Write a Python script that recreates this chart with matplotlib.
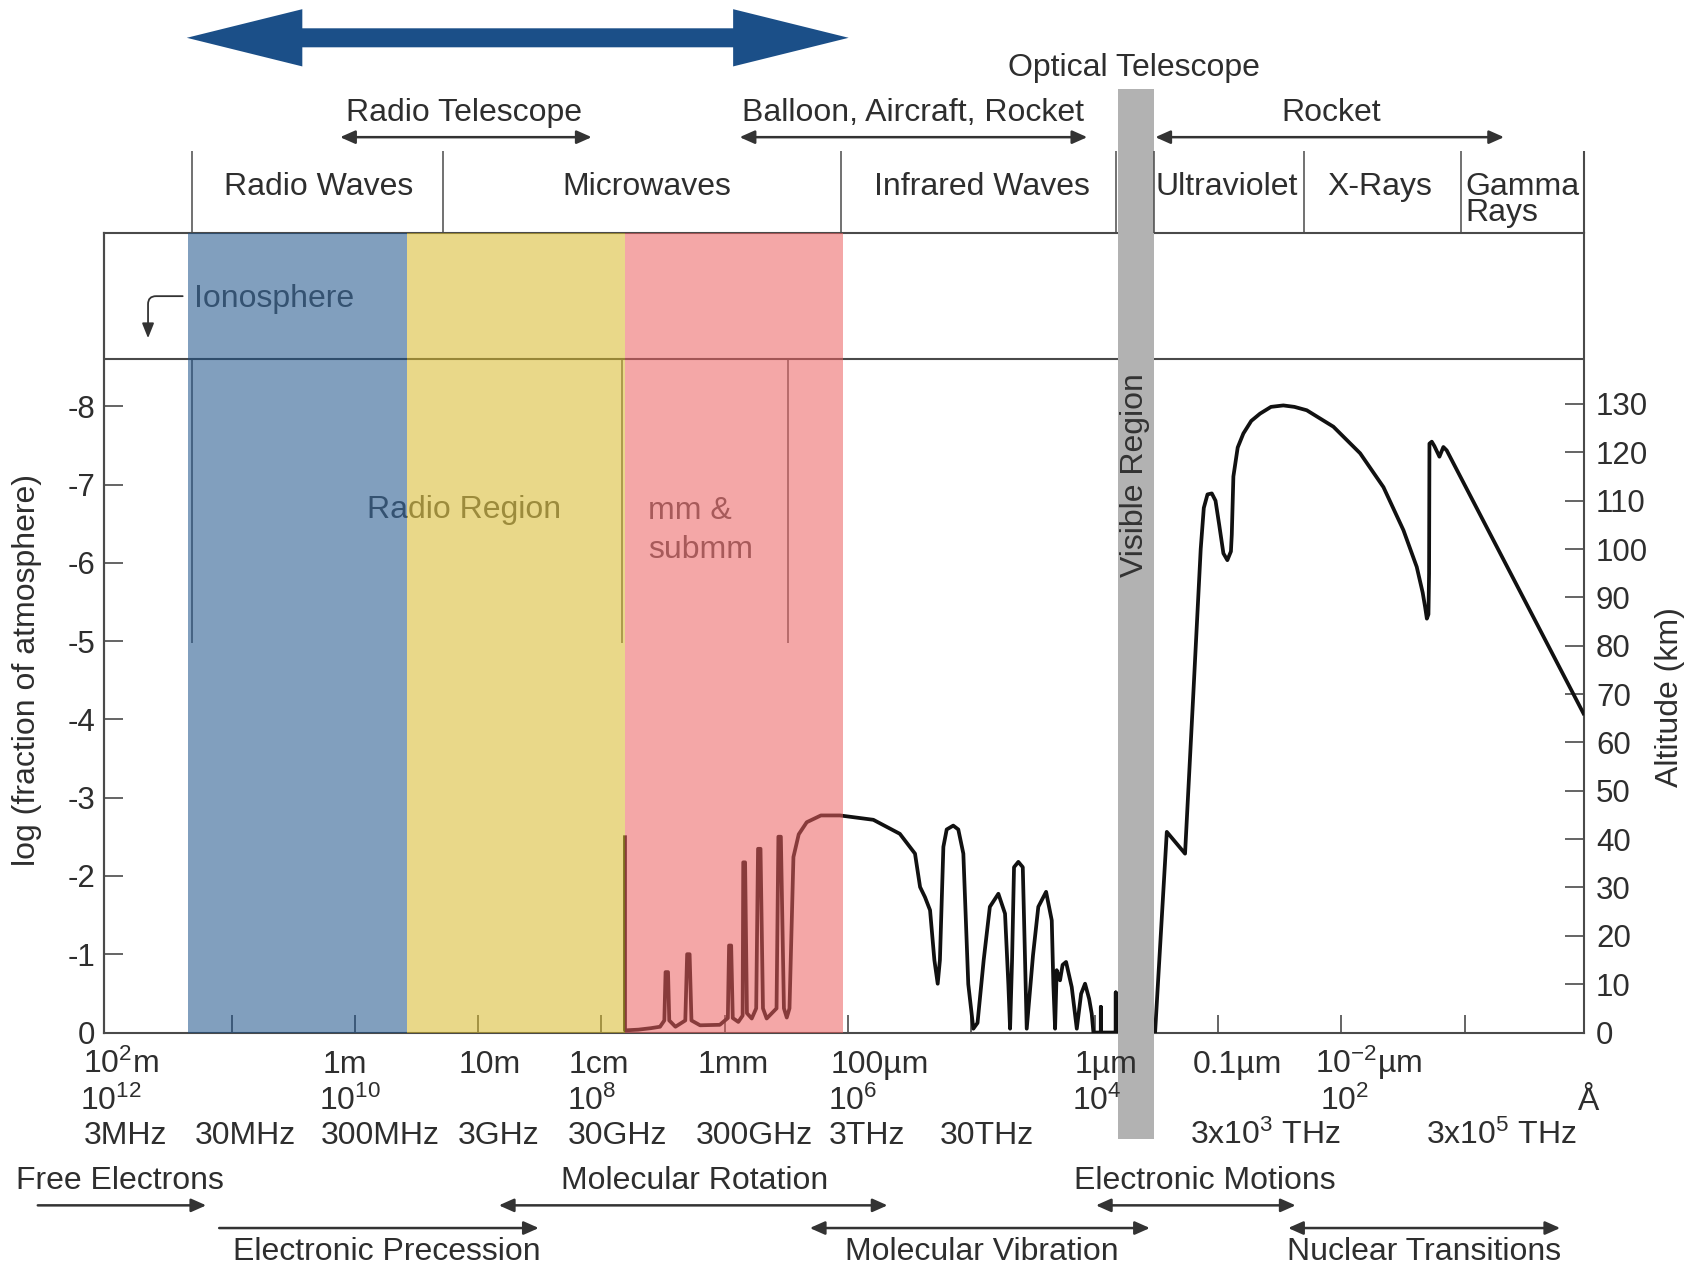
import matplotlib.pyplot as plt
from matplotlib.patches import Polygon, Rectangle

plt.rcParams['font.family'] = ['Liberation Sans', 'DejaVu Sans']
plt.rcParams['mathtext.fontset'] = 'custom'
plt.rcParams['mathtext.rm'] = 'Liberation Sans'
plt.rcParams['mathtext.it'] = 'Liberation Sans:italic'
plt.rcParams['mathtext.bf'] = 'Liberation Sans:bold'
plt.rcParams['axes.unicode_minus'] = False

# x = -log10(wavelength / m): 100 m -> -2, 1 Angstrom -> 10 ; y = altitude in km
curve_x = [2.191, 2.191, 2.30, 2.40, 2.475, 2.51, 2.52, 2.54, 2.55, 2.60,
           2.68, 2.695, 2.715, 2.73, 2.80, 2.96, 3.025, 3.035, 3.052, 3.065,
           3.11, 3.145, 3.150, 3.165, 3.18, 3.219, 3.255, 3.27, 3.29, 3.31,
           3.34, 3.42, 3.435, 3.455, 3.48, 3.503, 3.525, 3.557, 3.60, 3.665,
           3.78, 3.935, 4.205, 4.42, 4.543, 4.584, 4.624, 4.665, 4.70, 4.727,
           4.745, 4.773, 4.80, 4.853, 4.894, 4.935, 4.975, 5.016, 5.05, 5.10,
           5.15, 5.219, 5.273, 5.30, 5.314, 5.33, 5.346, 5.381, 5.417, 5.435,
           5.449, 5.50, 5.543, 5.606, 5.652, 5.665, 5.679, 5.692, 5.719, 5.74,
           5.768, 5.814, 5.855, 5.89, 5.922, 5.955, 5.976, 5.99, 6.05, 6.05,
           6.05, 6.171, 6.171, 6.171, 6.49, 6.585, 6.733, 6.80, 6.86, 6.885,
           6.915, 6.95, 6.98, 7.01, 7.044, 7.076, 7.105, 7.112, 7.125, 7.16,
           7.206, 7.27, 7.341, 7.43, 7.53, 7.62, 7.72, 7.936, 8.153, 8.342,
           8.504, 8.612, 8.66, 8.68, 8.694, 8.707, 8.712, 8.715, 8.734, 8.755,
           8.796, 8.828, 8.855, 9.964]
curve_alt = [40.4, 0.45, 0.6, 0.9, 1.2, 2.5, 12.5, 12.5, 2.5, 1.2,
             2.5, 16.2, 16.2, 2.5, 1.5, 1.6, 3.0, 18.0, 18.0, 3.0,
             2.2, 3.5, 35.2, 35.2, 4.0, 2.9, 5.0, 38.0, 38.0, 5.0,
             2.9, 5.0, 40.5, 40.5, 5.0, 3.1, 5.0, 36.3, 41.0, 43.5,
             44.9, 44.9, 44.0, 41.1, 37.0, 30.1, 28.0, 25.3, 15.0, 10.1,
             15.0, 38.4, 42.0, 42.8, 42.0, 37.0, 10.0, 0.8, 2.0, 15.0,
             26.0, 28.7, 24.6, 10.0, 0.8, 15.0, 34.2, 35.3, 34.2, 15.0,
             0.8, 16.0, 26.0, 29.1, 23.2, 10.0, 0.8, 12.9, 10.8, 14.0,
             14.6, 9.4, 0.8, 8.0, 10.1, 7.0, 3.9, 0.0, 0.0, 5.3,
             0.0, 0.0, 8.3, 0.0, 0.0, 41.5, 37.0, 70.0, 100.0, 108.5,
             111.3, 111.5, 110.0, 105.0, 99.1, 97.7, 99.5, 103.0, 115.0, 121.0,
             123.9, 126.5, 128.0, 129.4, 129.7, 129.4, 128.7, 125.3, 119.8, 112.8,
             103.9, 96.3, 91.0, 88.0, 85.6, 86.5, 95.0, 121.8, 122.2, 121.3,
             119.1, 121.1, 120.4, 66.0]

decade_ticks = list(range(-1, 10))
alt_ticks = list(range(0, 140, 10))
log_ticks = list(range(-8, 1))
km_per_log = 16.19

window_edges = [-1.354, 0.424, 2.193, 3.962]
window_colors = ['#1A5089', '#D7B828', '#EB5F5F']
visible_band = (6.19, 6.48)
ionosphere_alt = 139.2
partition_x = [-1.319, 2.167, 3.515]
partition_low = 80.6

wave_labels = ['10$^2$m', '1m', '10m', '1cm', '1mm', '100µm', '1µm', '0.1µm', '10$^{-2}$µm']
ang_labels = ['10$^{12}$', '10$^{10}$', '10$^{8}$', '10$^{6}$', '10$^{4}$', '10$^{2}$', 'Å']
freq_labels = ['3MHz', '30MHz', '300MHz', '3GHz', '30GHz', '300GHz', '3THz', '30THz',
               '3x10$^3$ THz', '3x10$^5$ THz']
region_labels = ['Radio Waves', 'Microwaves', 'Infrared Waves', 'Ultraviolet', 'X-Rays']

# layout, in pixels of a 1568 x 1174 page
W, H = 1568, 1174
wave_px = [112, 319, 454, 555, 679, 815, 1024, 1146, 1268]
ang_px = [103, 324, 548, 790, 1016, 1245, 1471]
freq_px = [116, 227, 352, 462, 572, 699, 803, 914, 1172, 1391]
region_px = [295, 599, 909, 1136, 1278]
separator_px = [178, 410, 779, 1034, 1069, 1208, 1353]

FS = 23
TXT = '#2e2e2e'
LINE = '#4a4a4a'

fig = plt.figure(figsize=(16.93, 12.68), dpi=100)
ax = fig.add_axes([96 / W, 1 - 956 / H, (1467 - 96) / W, (956 - 216) / H])
ax.set_xlim(-2.037, 9.968)
ax.set_ylim(0, 165.3)

ax.plot(curve_x, curve_alt, color='#111111', lw=2.7, solid_joinstyle='round', zorder=3)

for x0, x1, c in zip(window_edges[:-1], window_edges[1:], window_colors):
    ax.axvspan(x0, x1, color=c, alpha=0.55, lw=0, zorder=5)

ax.add_patch(Rectangle((visible_band[0], (956 - 1055) / 740), visible_band[1] - visible_band[0],
                       (1055 - 82) / 740, transform=ax.get_xaxis_transform(),
                       color='#B2B2B2', lw=0, zorder=6, clip_on=False))

ax.axhline(ionosphere_alt, color=LINE, lw=1.5, zorder=2.5)
ax.vlines(partition_x, partition_low, ionosphere_alt, color='#555555', lw=1.1, zorder=2)

ax.text(-1.301, 150.1, 'Ionosphere', fontsize=FS, color='#555555', va='baseline', zorder=2)
ax.text(0.100, 106.5, 'Radio Region', fontsize=FS, color='#555555', va='baseline', zorder=2)
ax.text(2.377, 106.3, 'mm &', fontsize=FS, color='#555555', va='baseline', zorder=2)
ax.text(2.377, 98.2, 'submm', fontsize=FS, color='#555555', va='baseline', zorder=2)
ax.annotate('', xy=(-1.677, 143.6), xytext=(-1.396, 152.3),
            arrowprops=dict(arrowstyle='-|>,head_length=0.45,head_width=0.18',
                            connectionstyle='angle,angleA=0,angleB=90,rad=8',
                            color='#333333', lw=1.3, shrinkA=0, shrinkB=0, mutation_scale=20))

for s in ax.spines.values():
    s.set_color(LINE)
    s.set_linewidth(1.5)

ax.set_xticks(decade_ticks)
ax.tick_params(axis='x', direction='in', length=13, width=1.2, color=LINE,
               labelbottom=False, top=False)
ax.yaxis.tick_right()
ax.set_yticks(alt_ticks)
ax.tick_params(axis='y', direction='in', length=14, width=1.2, color=LINE,
               labelsize=22.5, labelcolor=TXT, pad=8.6)

sec = ax.secondary_yaxis('left', functions=(lambda a: -a / km_per_log, lambda v: -v * km_per_log))
sec.set_yticks(log_ticks)
sec.tick_params(axis='y', direction='in', length=14, width=1.2, color=LINE,
                labelsize=22.5, labelcolor=TXT, pad=6)
sec.spines['left'].set_color(LINE)
sec.spines['left'].set_linewidth(1.5)

# page overlay for everything outside the plot box
over = fig.add_axes([0, 0, 1, 1], zorder=10)
over.set_xlim(0, W)
over.set_ylim(H, 0)
over.axis('off')


def say(x, y, s, ha='center', **kw):
    over.text(x, y, s, ha=ha, va='baseline', fontsize=FS, color=TXT, **kw)


def arrow(x0, x1, y, style='<|-|>'):
    over.annotate('', xy=(x1, y), xytext=(x0, y),
                  arrowprops=dict(arrowstyle=style + ',head_length=0.45,head_width=0.2',
                                  color='#333333', lw=1.8, shrinkA=0, shrinkB=0,
                                  mutation_scale=20))


# big double arrow over the radio window
tip_l, base_l, base_r, tip_r, yc, shaft, head = 173, 280, 679, 786, 35, 8.8, 26.5
over.add_patch(Polygon([(tip_l, yc), (base_l, yc - head), (base_l, yc - shaft),
                        (base_r, yc - shaft), (base_r, yc - head), (tip_r, yc),
                        (base_r, yc + head), (base_r, yc + shaft), (base_l, yc + shaft),
                        (base_l, yc + head)], closed=True, color='#1B4F88', lw=0))

say(1050, 70, 'Optical Telescope')
say(430, 112, 'Radio Telescope')
say(846, 112, 'Balloon, Aircraft, Rocket')
say(1233, 112, 'Rocket')
arrow(315, 548, 127)
arrow(685, 1007, 127)
arrow(1070, 1393, 127)

for s, x in zip(region_labels, region_px):
    say(x, 181, s)
say(1357, 205, 'Gamma\nRays', ha='left', linespacing=0.85)
over.vlines(separator_px, 140, 216, color=LINE, lw=1.1)
over.vlines(1467, 140, 216, color=LINE, lw=1.5)

over.text(1051, 440, 'Visible Region', rotation=90, ha='center', va='center',
          fontsize=FS, color='#333333')

for s, x in zip(wave_labels, wave_px):
    say(x, 993, s)
for s, x in zip(ang_labels, ang_px):
    say(x, 1028, s)
for s, x in zip(freq_labels, freq_px):
    say(x, 1059, s)

say(15, 1101, 'Free Electrons', ha='left')
say(643, 1101, 'Molecular Rotation')
say(1116, 1101, 'Electronic Motions')
say(358, 1167, 'Electronic Precession')
say(909, 1167, 'Molecular Vibration')
say(1319, 1167, 'Nuclear Transitions')
arrow(35, 191, 1116, '-|>')
arrow(462, 822, 1116)
arrow(1015, 1200, 1116)
arrow(203, 499, 1137, '-|>')
arrow(750, 1065, 1137)
arrow(1193, 1445, 1137)

over.text(25, 620, 'log (fraction of atmosphere)', rotation=90, ha='center', va='center',
          fontsize=FS, color=TXT)
over.text(1547, 645, 'Altitude (km)', rotation=90, ha='center', va='center',
          fontsize=FS, color=TXT)

fig.savefig('out.png', dpi=100)
